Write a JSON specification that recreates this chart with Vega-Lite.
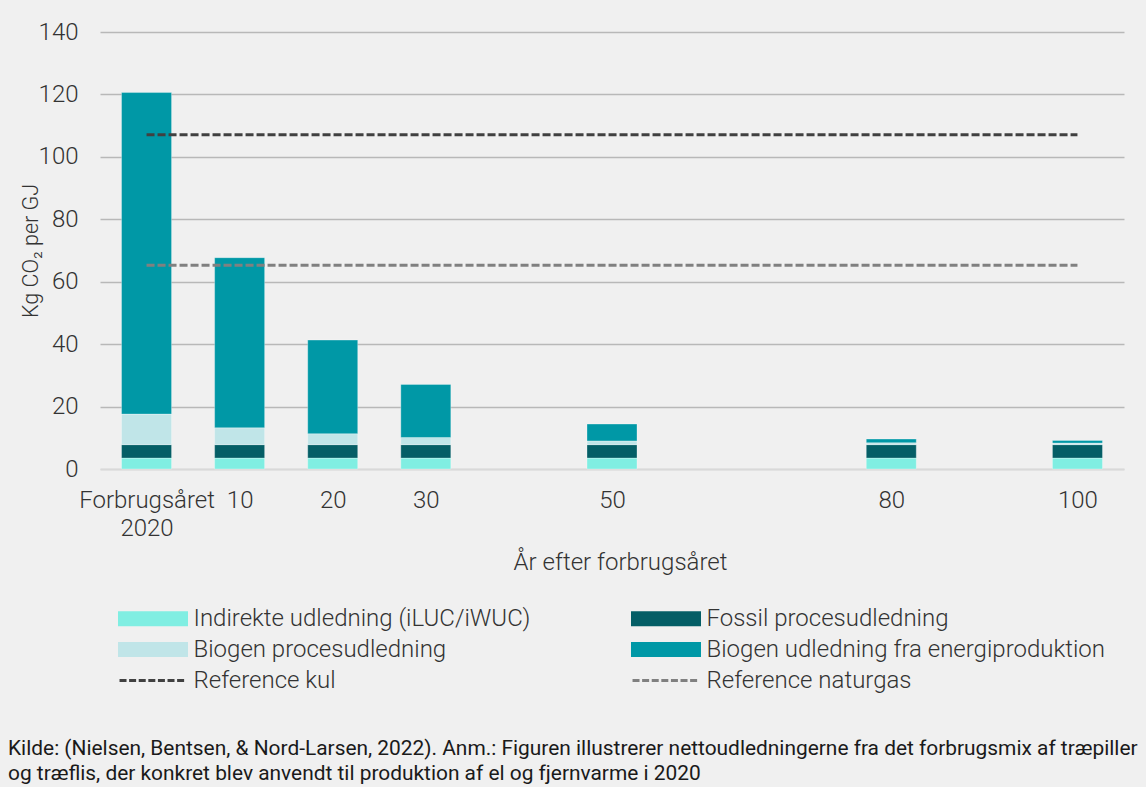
{
  "$schema": "https://vega.github.io/schema/vega-lite/v6.json",
  "width": 1024,
  "height": 437,
  "autosize": {"type": "none"},
  "padding": {"left": 100, "top": 32, "right": 22, "bottom": 318},
  "background": "#F0F0F0",
  "config": {
    "font": "Roboto",
    "view": {"stroke": null},
    "axis": {
      "labelFont": "Roboto",
      "labelFontWeight": 300,
      "labelFontSize": 24,
      "labelColor": "#333333",
      "titleFont": "Roboto",
      "titleFontWeight": 300,
      "titleFontSize": 24,
      "titleColor": "#333333"
    }
  },
  "title": {
    "text": [
      "Kilde: (Nielsen, Bentsen, & Nord-Larsen, 2022). Anm.: Figuren illustrerer nettoudledningerne fra det forbrugsmix af træpiller",
      "og træflis, der konkret blev anvendt til produktion af el og fjernvarme i 2020"
    ],
    "orient": "bottom",
    "anchor": "start",
    "frame": "group",
    "dx": -92,
    "offset": 45,
    "font": "Roboto",
    "fontSize": 20.9,
    "fontWeight": 400,
    "color": "#1a1a1a",
    "lineHeight": 25
  },
  "datasets": {
    "bars": [
      {"year": 0, "cat": "Indirekte udledning (iLUC/iWUC)", "value": 3.5},
      {"year": 0, "cat": "Fossil procesudledning", "value": 4.3},
      {"year": 0, "cat": "Biogen procesudledning", "value": 9.8},
      {"year": 0, "cat": "Biogen udledning fra energiproduktion", "value": 103.0},
      {"year": 10, "cat": "Indirekte udledning (iLUC/iWUC)", "value": 3.5},
      {"year": 10, "cat": "Fossil procesudledning", "value": 4.3},
      {"year": 10, "cat": "Biogen procesudledning", "value": 5.4},
      {"year": 10, "cat": "Biogen udledning fra energiproduktion", "value": 54.5},
      {"year": 20, "cat": "Indirekte udledning (iLUC/iWUC)", "value": 3.5},
      {"year": 20, "cat": "Fossil procesudledning", "value": 4.3},
      {"year": 20, "cat": "Biogen procesudledning", "value": 3.5},
      {"year": 20, "cat": "Biogen udledning fra energiproduktion", "value": 30.0},
      {"year": 30, "cat": "Indirekte udledning (iLUC/iWUC)", "value": 3.5},
      {"year": 30, "cat": "Fossil procesudledning", "value": 4.3},
      {"year": 30, "cat": "Biogen procesudledning", "value": 2.3},
      {"year": 30, "cat": "Biogen udledning fra energiproduktion", "value": 17.0},
      {"year": 50, "cat": "Indirekte udledning (iLUC/iWUC)", "value": 3.5},
      {"year": 50, "cat": "Fossil procesudledning", "value": 4.3},
      {"year": 50, "cat": "Biogen procesudledning", "value": 1.2},
      {"year": 50, "cat": "Biogen udledning fra energiproduktion", "value": 5.4},
      {"year": 80, "cat": "Indirekte udledning (iLUC/iWUC)", "value": 3.5},
      {"year": 80, "cat": "Fossil procesudledning", "value": 4.3},
      {"year": 80, "cat": "Biogen procesudledning", "value": 0.6},
      {"year": 80, "cat": "Biogen udledning fra energiproduktion", "value": 1.2},
      {"year": 100, "cat": "Indirekte udledning (iLUC/iWUC)", "value": 3.5},
      {"year": 100, "cat": "Fossil procesudledning", "value": 4.3},
      {"year": 100, "cat": "Biogen procesudledning", "value": 0.5},
      {"year": 100, "cat": "Biogen udledning fra energiproduktion", "value": 0.85}
    ],
    "refs": [
      {"year": 0, "cat": "Reference kul", "value": 107.05},
      {"year": 100, "cat": "Reference kul", "value": 107.05},
      {"year": 0, "cat": "Reference naturgas", "value": 65.3},
      {"year": 100, "cat": "Reference naturgas", "value": 65.3}
    ]
  },
  "encoding": {
    "x": {
      "field": "year",
      "type": "quantitative",
      "scale": {"domain": [-5, 105], "nice": false, "zero": false, "padding": 0},
      "axis": {
        "values": [0, 10, 20, 30, 50, 80, 100],
        "labelExpr": "datum.value === 0 ? ['Forbrugsåret', '2020'] : datum.label",
        "labelLineHeight": 28,
        "labelPadding": 19,
        "labelFlush": false,
        "labelOverlap": false,
        "grid": false,
        "ticks": false,
        "domain": true,
        "domainColor": "#D9D9D9",
        "domainWidth": 2,
        "title": "År efter forbrugsåret",
        "titleX": 520,
        "titlePadding": 10
      }
    },
    "y": {
      "field": "value",
      "type": "quantitative",
      "scale": {"domain": [0, 140], "nice": false},
      "axis": {
        "values": [0, 20, 40, 60, 80, 100, 120, 140],
        "grid": true,
        "gridColor": {"condition": {"test": "datum.value === 0", "value": "#DADADA"}, "value": "#B8B8B8"},
        "gridWidth": 1.5,
        "domain": false,
        "ticks": false,
        "labelPadding": 22,
        "title": "Kg CO₂ per GJ",
        "titleFontSize": 21.5,
        "titlePadding": -4
      }
    },
    "color": {
      "field": "cat",
      "type": "nominal",
      "scale": {
        "domain": [
          "Indirekte udledning (iLUC/iWUC)",
          "Fossil procesudledning",
          "Biogen procesudledning",
          "Biogen udledning fra energiproduktion",
          "Reference kul",
          "Reference naturgas"
        ],
        "range": ["#80EEE2", "#045E66", "#C0E5E8", "#0098A6", "#404040", "#808080"]
      },
      "legend": {
        "title": null,
        "orient": "none",
        "legendX": 39.5,
        "legendY": 573,
        "padding": 0,
        "columns": 2,
        "direction": "horizontal",
        "columnPadding": 96,
        "rowPadding": 5,
        "labelFont": "Roboto",
        "labelFontWeight": 300,
        "labelFontSize": 24,
        "labelColor": "#333333",
        "labelOffset": 27,
        "labelLimit": 700,
        "symbolSize": 576,
        "encode": {
          "symbols": {
            "update": {
              "shape": {"signal": "indexof(['Reference kul','Reference naturgas'], datum.value) >= 0 ? 'M-2.79,0H2.79' : 'M-2.79,-0.5H2.79V0.5H-2.79Z'"},
              "fill": {"signal": "indexof(['Reference kul','Reference naturgas'], datum.value) >= 0 ? 'transparent' : scale('color', datum.value)"},
              "stroke": {"signal": "indexof(['Reference kul','Reference naturgas'], datum.value) >= 0 ? scale('color', datum.value) : 'transparent'"},
              "strokeWidth": {"value": 3},
              "strokeDash": {"signal": "indexof(['Reference kul','Reference naturgas'], datum.value) >= 0 ? [7, 2.6] : [1, 0]"},
              "opacity": {"value": 1}
            }
          }
        }
      }
    }
  },
  "layer": [
    {
      "data": {"name": "bars"},
      "transform": [
        {"calculate": "indexof(['Indirekte udledning (iLUC/iWUC)','Fossil procesudledning','Biogen procesudledning','Biogen udledning fra energiproduktion'], datum.cat)", "as": "stackorder"}
      ],
      "mark": {"type": "bar", "size": 50, "stroke": "#FFFFFF", "strokeWidth": 0.6, "strokeOpacity": 0.5},
      "encoding": {
        "y": {"field": "value", "type": "quantitative", "stack": "zero"},
        "order": {"field": "stackorder", "type": "quantitative", "sort": "ascending"}
      }
    },
    {
      "data": {"name": "refs"},
      "mark": {"type": "line", "strokeDash": [8, 3], "strokeWidth": 3},
      "encoding": {}
    }
  ]
}
